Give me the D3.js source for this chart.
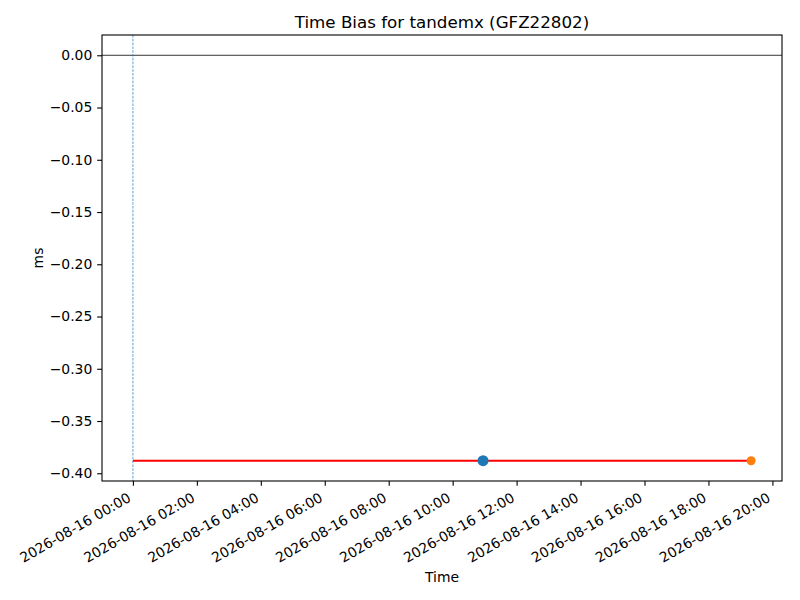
<!DOCTYPE html>
<html>
<head>
<meta charset="utf-8">
<script src="https://cdn.jsdelivr.net/npm/d3@7"></script>
<style>
body { margin: 0; background: #fff; }
svg { font-family: "DejaVu Sans", sans-serif; }
</style>
</head>
<body>
<svg width="800" height="600"></svg>
<script>
// data
var titolo = "Time Bias for tandemx (GFZ22802)";
var lineaTempi = ["2026-08-16 00:00", "2026-08-16 19:20"];
var lineaValori = [-0.388, -0.388];
var puntoBlu = ["2026-08-16 10:57", -0.388];
var puntoArancio = ["2026-08-16 19:20", -0.388];
var lineaVerticale = "2026-08-16 00:00";
var yTicks = [0.00, -0.05, -0.10, -0.15, -0.20, -0.25, -0.30, -0.35, -0.40];

var parse = d3.timeParse("%Y-%m-%d %H:%M");
var fmt = d3.timeFormat("%Y-%m-%d %H:%M");

var svg = d3.select("svg");
var m = { left: 102, right: 782, top: 35, bottom: 481 };
var tick = 4.86;

// x domain with matplotlib 5% margins
var t0 = parse(lineaTempi[0]), t1 = parse(lineaTempi[1]);
var dt = (t1 - t0) * 0.05;
var x = d3.scaleTime()
	.domain([new Date(+t0 - dt), new Date(+t1 + dt)])
	.range([m.left, m.right]);

var ymin = d3.min(lineaValori), ymax = 0;
var dy = (ymax - ymin) * 0.05;
var y = d3.scaleLinear()
	.domain([ymin - dy, ymax + dy])
	.range([m.bottom, m.top]);

svg.append("clipPath").attr("id", "c")
	.append("rect")
	.attr("x", m.left).attr("y", m.top)
	.attr("width", m.right - m.left).attr("height", m.bottom - m.top);

var g = svg.append("g").attr("clip-path", "url(#c)");

// linea orizzontale a 0
g.append("line")
	.attr("x1", m.left).attr("x2", m.right)
	.attr("y1", y(0)).attr("y2", y(0))
	.style("stroke", "black")
	.attr("stroke-width", 0.8);

// linea verticale tratteggiata
g.append("line")
	.attr("x1", x(parse(lineaVerticale))).attr("x2", x(parse(lineaVerticale)))
	.attr("y1", m.top).attr("y2", m.bottom)
	.style("stroke", "#1f77b4")
	.attr("stroke-width", 0.7)
	.style("stroke-dasharray", "2.6, 1.2");

// linea rossa
var linea = d3.line()
	.x(function(d, i){ return x(parse(lineaTempi[i])) })
	.y(function(d){ return y(d) });
g.append("path")
	.datum(lineaValori)
	.attr("d", linea)
	.attr("fill", "none")
	.style("stroke", "red")
	.attr("stroke-width", 2);

g.append("circle")
	.attr("cx", x(parse(puntoBlu[0])))
	.attr("cy", y(puntoBlu[1]))
	.attr("r", 5.5)
	.attr("fill", "#1f77b4");

g.append("circle")
	.attr("cx", x(parse(puntoArancio[0])))
	.attr("cy", y(puntoArancio[1]))
	.attr("r", 4.5)
	.attr("fill", "#ff7f0e");

// assi
var xTicks = d3.timeHour.every(2).range(t0, new Date(+t1 + dt));
var xAxis = svg.append("g")
	.attr("transform", "translate(0," + m.bottom + ")")
	.call(d3.axisBottom(x).tickValues(xTicks).tickFormat(fmt).tickSizeInner(tick).tickSizeOuter(0))
	.attr("font-family", "DejaVu Sans");
xAxis.select(".domain").remove();
xAxis.selectAll("line").attr("stroke", "black").attr("stroke-width", 1.1);
xAxis.selectAll("text")
	.attr("font-size", 13.9)
	.attr("fill", "black")
	.attr("text-anchor", "end")
	.attr("y", 0)
	.attr("dy", 0)
	.attr("transform", "translate(-1.5,19.5) rotate(-30)");

var yAxis = svg.append("g")
	.attr("transform", "translate(" + m.left + ",0)")
	.call(d3.axisLeft(y).tickValues(yTicks).tickFormat(function(d){ return d3.format(".2f")(d).replace("-", "\u2212") }).tickSizeInner(tick).tickSizeOuter(0).tickPadding(tick))
	.attr("font-family", "DejaVu Sans");
yAxis.select(".domain").remove();
yAxis.selectAll("line").attr("stroke", "black").attr("stroke-width", 1.1);
yAxis.selectAll("text").attr("font-size", 13.9).attr("fill", "black");

// cornice
svg.append("rect")
	.attr("x", m.left).attr("y", m.top)
	.attr("width", m.right - m.left).attr("height", m.bottom - m.top)
	.attr("fill", "none")
	.style("stroke", "black")
	.attr("stroke-width", 1.1);

svg.append("text")
	.attr("x", (m.left + m.right) / 2).attr("y", 28)
	.attr("text-anchor", "middle")
	.attr("font-size", 16.7)
	.text(titolo);

svg.append("text")
	.attr("x", (m.left + m.right) / 2).attr("y", 582)
	.attr("text-anchor", "middle")
	.attr("font-size", 13.9)
	.text("Time");

svg.append("text")
	.attr("transform", "translate(43," + ((m.top + m.bottom) / 2) + ") rotate(-90)")
	.attr("text-anchor", "middle")
	.attr("font-size", 13.9)
	.text("ms");
</script>
</body>
</html>
